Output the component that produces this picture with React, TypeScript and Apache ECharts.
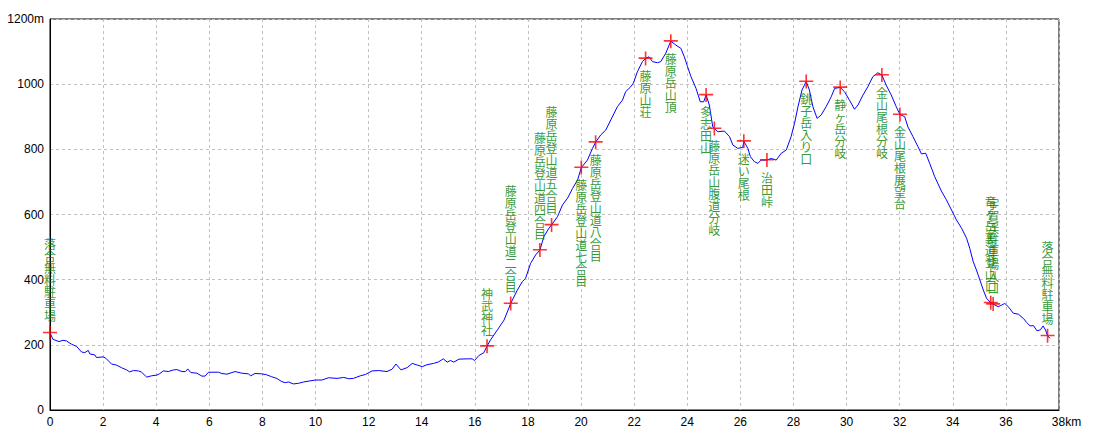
import React, { useEffect, useRef } from "react";
import * as echarts from "echarts";

const profileKm = [
  0, 0.11, 0.34, 0.49, 0.62, 0.81, 1.0, 1.19, 1.31, 1.44, 1.5, 1.69, 1.75, 2.0, 2.1, 2.32, 2.5, 2.69, 2.89, 3.0,
  3.14, 3.33, 3.45, 3.64, 3.83, 4.02, 4.12, 4.27, 4.46, 4.65, 4.78, 4.97, 5.1, 5.19, 5.3, 5.53, 5.72, 5.84, 5.97, 6.35,
  6.47, 6.66, 6.78, 6.97, 7.22, 7.47, 7.56, 7.72, 7.97, 8.16, 8.35, 8.54, 8.73, 8.86, 8.98, 9.17, 9.36, 9.55, 9.99, 10.24,
  10.49, 10.81, 11.06, 11.25, 11.43, 11.69, 11.88, 12.13, 12.38, 12.69, 12.88, 13.03, 13.22, 13.45, 13.64, 13.83, 14.02, 14.2, 14.45, 14.64,
  14.81, 14.96, 15.08, 15.21, 15.4, 15.71, 15.9, 15.99, 16.15, 16.34, 16.46, 16.59, 16.85, 17.1, 17.35, 17.6, 17.79, 17.91, 18.1, 18.29,
  18.45, 18.6, 18.79, 18.89, 19.11, 19.3, 19.49, 19.68, 19.87, 20.01, 20.24, 20.43, 20.55, 20.74, 20.93, 21.12, 21.37, 21.56, 21.68, 21.87,
  21.97, 22.12, 22.31, 22.43, 22.56, 22.69, 22.88, 23.0, 23.19, 23.38, 23.57, 23.76, 23.89, 24.01, 24.14, 24.33, 24.49, 24.62, 24.71, 24.83,
  24.96, 25.02, 25.15, 25.4, 25.59, 25.72, 25.9, 26.09, 26.13, 26.28, 26.38, 26.53, 26.66, 26.78, 27.0, 27.16, 27.35, 27.54, 27.73, 27.91,
  28.04, 28.17, 28.32, 28.48, 28.6, 28.73, 28.89, 29.04, 29.23, 29.42, 29.55, 29.76, 29.92, 30.11, 30.3, 30.43, 30.62, 30.8, 30.99, 31.18,
  31.33, 31.49, 31.68, 31.87, 32.01, 32.19, 32.31, 32.5, 32.69, 32.82, 32.98, 33.13, 33.32, 33.57, 33.76, 33.95, 34.14, 34.33, 34.52, 34.64,
  34.77, 34.89, 35.02, 35.15, 35.27, 35.43, 35.52, 35.71, 35.84, 35.96, 36.11, 36.28, 36.47, 36.66, 36.79, 36.91, 37.04, 37.17, 37.3, 37.4,
  37.49, 37.57, 37.66,
];

const profileElev = [
  237, 217, 210, 214, 212, 202, 195, 178, 176, 183, 172, 169, 161, 163, 159, 141, 138, 130, 123, 117,
  121, 120, 116, 101, 105, 107, 111, 120, 118, 123, 124, 118, 118, 126, 115, 113, 104, 104, 116, 116,
  112, 110, 113, 118, 113, 111, 105, 112, 111, 108, 102, 97, 87, 84, 86, 80, 82, 86, 92, 92,
  99, 97, 100, 96, 97, 105, 109, 120, 121, 118, 125, 141, 123, 130, 143, 138, 133, 139, 143, 148,
  157, 147, 152, 147, 156, 157, 157, 152, 167, 176, 196, 215, 246, 276, 327, 368, 394, 404, 450, 476,
  491, 532, 558, 568, 593, 629, 650, 680, 706, 744, 767, 803, 822, 844, 859, 890, 931, 951, 977, 992,
  1003, 1038, 1069, 1079, 1084, 1069, 1066, 1069, 1095, 1132, 1120, 1110, 1084, 1054, 1023, 987, 946, 946, 967, 936,
  869, 864, 854, 856, 839, 813, 803, 806, 825, 803, 777, 762, 757, 767, 767, 772, 767, 788, 798, 839,
  880, 931, 982, 1008, 982, 931, 895, 905, 931, 961, 987, 990, 977, 951, 923, 936, 967, 992, 1023, 1035,
  1028, 997, 967, 931, 907, 900, 869, 839, 808, 786, 788, 757, 716, 672, 645, 614, 583, 558, 527, 496,
  455, 430, 399, 368, 343, 329, 325, 317, 322, 327, 315, 297, 294, 281, 268, 258, 259, 243, 246, 258,
  246, 228, 220,
];

const markerNames = [
  "落合無料駐車場",
  "神武神社",
  "藤原岳登山道二合目",
  "藤原岳登山道四合目",
  "藤原岳登山道五合目",
  "藤原岳登山道七合目",
  "藤原岳登山道八合目",
  "藤原山荘",
  "藤原岳山頂",
  "多志田山",
  "藤原岳山腹道分岐",
  "迷い尾根",
  "治田峠",
  "銚子岳入り口",
  "静ヶ岳分岐",
  "金山尾根分岐",
  "金山尾根展望台",
  "竜ヶ岳裏道登山口",
  "宇賀渓駐車場入口",
  "落合無料駐車場",
];
const markerKm = [0, 16.46, 17.35, 18.45, 18.89, 20.01, 20.55, 22.43, 23.38, 24.71, 25.02, 26.13, 27.0, 28.48, 29.76, 31.33, 32.01, 35.43, 35.52, 37.57];
const markerElev = [237, 196, 327, 491, 568, 744, 822, 1079, 1132, 967, 864, 825, 767, 1008, 990, 1028, 907, 329, 325, 228];

const xTicks = [0, 38, 2];
const yTicks = [0, 1200, 200];

export default function App() {
  const ref = useRef<HTMLDivElement>(null);
  useEffect(() => {
    if (!ref.current) return;
    const chart = echarts.init(ref.current, undefined, { renderer: "svg" });
    const axisFont = { fontFamily: "Liberation Sans", fontSize: 12, color: "#000" };
    const split = { show: true, lineStyle: { color: "#c0c0c0", type: [3, 3] as any, width: 1 } };
    const option: any = {
      animation: false,
      backgroundColor: "#fff",
      grid: { left: 50, right: 41, top: 19, bottom: 30, show: true, borderColor: "#000", borderWidth: 1, backgroundColor: "transparent" },
      xAxis: {
        type: "value",
        min: xTicks[0],
        max: xTicks[1],
        interval: xTicks[2],
        axisLine: { show: true, lineStyle: { color: "#000", width: 1 } },
        axisTick: { show: false },
        splitLine: split,
        axisLabel: {
          ...axisFont,
          margin: 6,
          formatter: (v: number) => (v === xTicks[1] ? `{e|${v}km}` : `${v}`),
          rich: { e: { ...axisFont, padding: [0, 0, 0, 15] } },
        },
      },
      yAxis: {
        type: "value",
        min: yTicks[0],
        max: yTicks[1],
        interval: yTicks[2],
        axisLine: { show: true, lineStyle: { color: "#000", width: 1 } },
        axisTick: { show: false },
        splitLine: split,
        axisLabel: {
          ...axisFont,
          margin: 6,
          formatter: (v: number) => (v === yTicks[1] ? `${v}m` : `${v}`),
        },
      },
      series: [
        {
          type: "line",
          data: profileKm.map((k, i) => [k, profileElev[i]]),
          showSymbol: false,
          symbol: "none",
          lineStyle: { color: "#0000ff", width: 1 },
          z: 2,
        },
        {
          type: "scatter",
          symbol: "path://M0,5.5h13v1.5h-13z M5.75,0h1.5v13h-1.5z",
          symbolSize: 14,
          itemStyle: { color: "#ff0000" },
          z: 3,
          data: markerKm.map((k, i) => {
            const below = k > 19.5 && k < 33;
            return {
              value: [k, markerElev[i]],
              name: markerNames[i],
              label: { position: below ? "bottom" : "top" },
            };
          }),
          label: {
            show: true,
            distance: 4,
            color: "#008000",
            fontFamily: "Noto Sans CJK JP",
            fontSize: 12,
            lineHeight: 12,
            formatter: (p: any) => String(p.name).split("").join("\n"),
          },
        },
      ],
    };
    chart.setOption(option);
    return () => chart.dispose();
  }, []);
  return <div ref={ref} style={{ position: "absolute", left: 0, top: 0, width: 1100, height: 440 }} />;
}
